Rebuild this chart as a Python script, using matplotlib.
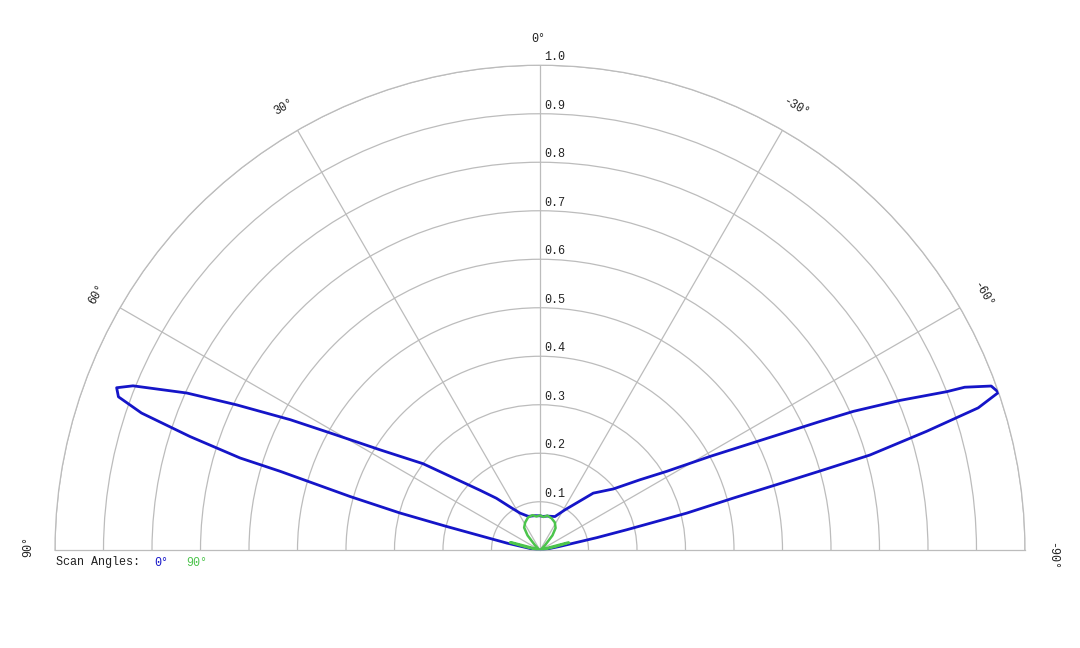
import numpy as np
import matplotlib
matplotlib.use("Agg")
import matplotlib.pyplot as plt

# scan pattern, theta in degrees (positive = left), normalised level
blue_theta = [-90, -80, -79, -77.5, -76.7, -75.8, -74.9, -74.5, -74.2, -73.9,
              -72.9, -72.0, -71.0, -70.0, -69.0, -68.7, -67.4, -66.1, -65.3,
              -63.5, -61.1, -58.1, -54.8, -50.1, -43.0, -31.7, -23.9, -12,
              -5, 0, 8, 19.1, 28.3, 35, 40, 45, 51.8, 53.5, 57.9, 60.8, 62.4,
              64.4, 66.0, 68.0, 69.0, 70.0, 71.0, 72.0, 72.9, 73.1, 74.2,
              75.1, 75.7, 77.8, 80, 90]
blue_r = [0.0, 0.015, 0.042, 0.12, 0.184, 0.312, 0.413, 0.506, 0.600, 0.708,
          0.834, 0.950, 1.0, 0.99, 0.938, 0.900, 0.804, 0.707, 0.635,
          0.507, 0.400, 0.308, 0.252, 0.197, 0.161, 0.098, 0.076, 0.072,
          0.070, 0.071, 0.072, 0.074, 0.087, 0.11, 0.14, 0.175, 0.262, 0.300,
          0.390, 0.496, 0.581, 0.694, 0.797, 0.905, 0.935, 0.925, 0.869,
          0.759, 0.647, 0.56, 0.407, 0.299, 0.200, 0.07, 0.02, 0.0]

green_theta = [-90, -80, -77, -75.5, -74.5, -73, -65, -50, -45, -40, -35, -28,
               -20, -12, -6, 0, 6, 12, 20, 28, 35, 40, 45, 50, 65, 73, 74.5,
               75.5, 77, 80, 90]
green_r = [0.0, 0.005, 0.03, 0.062, 0.058, 0.02, 0.004, 0.004, 0.015, 0.04,
           0.056, 0.065, 0.07, 0.073, 0.069, 0.072, 0.07, 0.074, 0.072, 0.065,
           0.057, 0.04, 0.015, 0.004, 0.004, 0.02, 0.06, 0.064, 0.03, 0.005,
           0.0]

r_ticks = [0.1, 0.2, 0.3, 0.4, 0.5, 0.6, 0.7, 0.8, 0.9, 1.0]
angle_ticks = [90, 60, 30, 0, -30, -60, -90]

FONT = "Liberation Mono"
GRID = "#bcbcbc"
BLUE = "#1515c8"
GREEN = "#4cc44c"

fig = plt.figure(figsize=(10.8, 6.48), dpi=100)
# the half disc is fitted into a square box, centred vertically
ax = fig.add_axes([55 / 1080, (648 - 792.75) / 648, 970 / 1080, 970 / 648],
                  projection="polar")
ax.set_theta_zero_location("N")
ax.set_theta_direction(1)
ax.set_thetamin(-90)
ax.set_thetamax(90)
ax.set_ylim(0, 1)

ax.set_rticks(r_ticks)
ax.set_xticks(np.deg2rad([-60, -30, 0, 30, 60]))
ax.set_xticklabels([])
ax.set_yticklabels([])
ax.grid(True, color=GRID, lw=0.9)
for sp in ax.spines.values():
    sp.set_color(GRID)
    sp.set_linewidth(0.9)

ax.plot(np.deg2rad(blue_theta), blue_r, color=BLUE, lw=2.0, zorder=3)
ax.plot(np.deg2rad(green_theta), green_r, color=GREEN, lw=1.8, zorder=4)

# radial labels along the 0 deg line
for r in r_ticks:
    ax.annotate(f"{r:.1f}", xy=(0, r), xytext=(4, 2), textcoords="offset pixels",
                ha="left", va="bottom", fontsize=8.5, family=FONT, color="#222222")

# angle labels, rotated along the arc
nudge = {90: (0, 4), -90: (0, -6), 0: (-2, 0)}
for a in angle_ticks:
    ax.annotate(f"{a}\u00b0", xy=(np.deg2rad(a), 1.055), xytext=nudge.get(a, (0, 0)),
                textcoords="offset pixels", rotation=a, rotation_mode="anchor",
                ha="center", va="center", fontsize=8.5, family=FONT,
                color="#222222", annotation_clip=False)

fig.text(56 / 1080, 1 - 562.5 / 648, "Scan Angles:", ha="left", va="center",
         fontsize=8.5, family=FONT, color="#222222")
fig.text(154 / 1080, 1 - 562.5 / 648, "0\u00b0", ha="left", va="center",
         fontsize=8.5, family=FONT, color=BLUE)
fig.text(186 / 1080, 1 - 562.5 / 648, "90\u00b0", ha="left", va="center",
         fontsize=8.5, family=FONT, color=GREEN)

fig.savefig("out.png", dpi=100)
